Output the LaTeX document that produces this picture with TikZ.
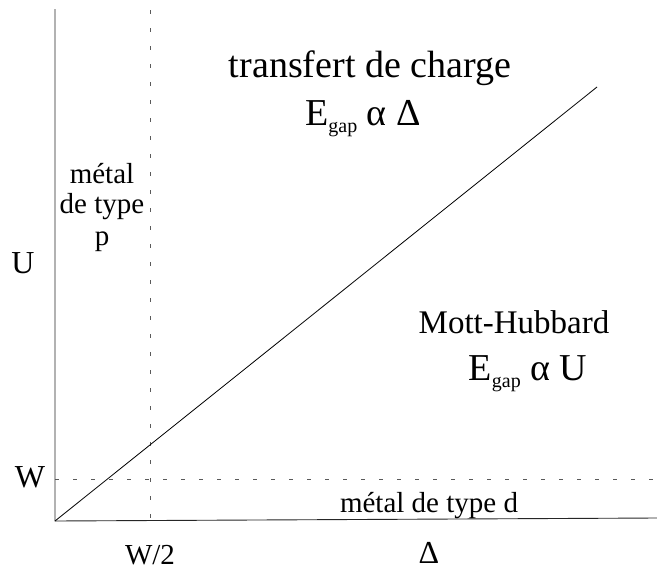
\documentclass[tikz,border=0pt]{standalone}
\usepackage{fontspec}
\setmainfont{Liberation Serif}
\usepackage{tikz}
\usetikzlibrary{positioning}

% subscript "gap" as printed under the E
\newcommand{\Egap}{E\raisebox{-7pt}{\fontsize{20}{20}\selectfont gap}}

\begin{document}
\begin{tikzpicture}[
      x=1pt, y=-1pt,
      axis/.style={line width=0.9pt, black!85},
      guide/.style={line width=0.8pt, black!65, dash pattern=on 4pt off 14pt},
      big/.style={font=\fontsize{38}{40}\selectfont, anchor=base, inner sep=0pt},
      lbl/.style={font=\fontsize{29}{31}\selectfont, anchor=base, inner sep=0pt},
      axlbl/.style={font=\fontsize{32}{34}\selectfont, anchor=base, inner sep=0pt},
    ]
    \useasboundingbox (0,0) rectangle (657,571);

    % ---- axes ----
    \coordinate (O) at (55,521);
    \coordinate (Utop) at (55,9);
    \coordinate (Dend) at (657,518);
    \draw[axis] (Utop) -- (O) -- (Dend);

    % ---- guide lines U = W and Delta = W/2 ----
    \coordinate (Wl) at (55,479);
    \coordinate (Wr) at (657,479);
    \coordinate (Ht) at (150,10);
    \coordinate (Hb) at (150,520);
    \draw[guide] (Wl) -- (Wr);
    \draw[guide] (Ht) -- (Hb);

    % ---- boundary between the two regimes ----
    \coordinate (Dg) at (597,87);
    \draw[line width=0.8pt] (O) -- (Dg);

    % ---- axis labels ----
    \node[axlbl] (uname) at (23,273) {U};
    \node[axlbl] (wname) at (30,487) {W};
    \node[lbl] (whalf) at (150,564) {W/2};
    \node[axlbl] (dname) at (429,563) {Δ};

    % ---- regions ----
    \node[big] (ctname) at (370,77) {transfert de charge};
    \node[big] (ctgap) at (363,125) {\Egap{} α Δ};
    \node[big, font=\fontsize{33}{35}\selectfont] (mhname) at (514,333) {Mott-Hubbard};
    \node[big] (mhgap) at (528,380) {\Egap{} α U};
    \node[lbl] (pmet1) at (102,183) {métal};
    \node[lbl] (pmet2) at (102,213) {de type};
    \node[lbl] (pmet3) at (102,245) {p};
    \node[lbl] (dmet) at (429,512) {métal de type d};
  \end{tikzpicture}
\end{document}
